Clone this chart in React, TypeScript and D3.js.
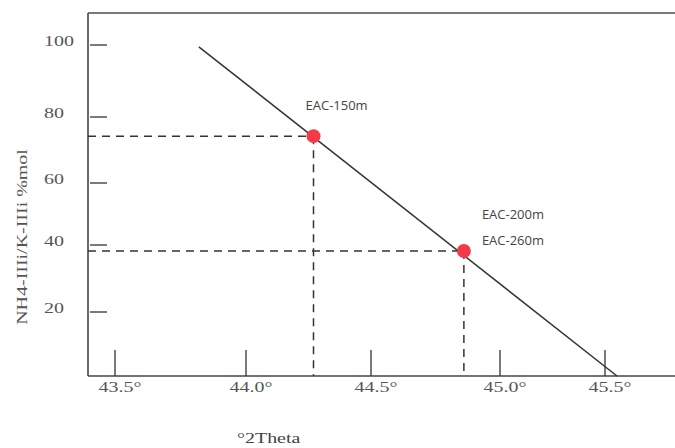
import React from "react";
import * as d3 from "d3";

const xTicks = [43.5, 44.0, 44.5, 45.0, 45.5];
const xTickLabels = ["43.5°", "44.0°", "44.5°", "45.0°", "45.5°"];
const yTicks = [20, 40, 60, 80, 100];
const lineX = [43.82, 45.557];
const lineY = [99.5, 0];
const sampleNames = ["EAC-150m", "EAC-200m"];
const sampleX = [44.27, 44.86];
const sampleY = [74.2, 38.2];
const sampleLabels = [["EAC-150m"], ["EAC-200m", "EAC-260m"]];

const W = 675;
const H = 448;
const left = 88;
const top = 13;
const bottom = 376;
const STRETCH = 1.33;

const x = d3
  .scaleLinear()
  .domain([43.5, 44.0, 44.5, 45.0, 45.5])
  .range([115, 246, 371, 500, 605]);
const y = d3
  .scaleLinear()
  .domain([0, 20, 40, 60, 80, 100])
  .range([376, 312, 245, 183, 117, 45]);

const serif = "'Liberation Serif', 'DejaVu Serif', serif";
const sans = "'Open Sans', 'Noto Sans', sans-serif";

function SerifText(props: {
  x: number;
  y: number;
  text: string;
  anchor?: string;
  fill?: string;
  size?: number;
  transform?: string;
}) {
  const size = props.size ?? 15;
  return (
    <text
      x={props.x}
      y={props.y}
      transform={props.transform}
      textAnchor={props.anchor ?? "start"}
      fontFamily={serif}
      fontSize={size}
      fill={props.fill ?? "#555"}
      style={{ fontStretch: "normal" }}
    >
      <tspan
        ref={(el) => {
          if (el) {
            el.removeAttribute("textLength");
            const w = el.getComputedTextLength();
            el.setAttribute("textLength", String(w * STRETCH));
            el.setAttribute("lengthAdjust", "spacingAndGlyphs");
          }
        }}
      >
        {props.text}
      </tspan>
    </text>
  );
}

export default function App() {
  const line = d3
    .line<number>()
    .x((d, i) => x(lineX[i]))
    .y((d, i) => y(lineY[i]));
  return (
    <svg
      width={W}
      height={H}
      style={{ position: "absolute", left: 0, top: 0, background: "#fff" }}
    >
      {/* frame */}
      <line x1={left} y1={top} x2={W} y2={top} stroke="#7a7a7a" strokeWidth={2} />
      <line x1={left} y1={top} x2={left} y2={bottom} stroke="#444" strokeWidth={1.6} />
      <line x1={left} y1={bottom} x2={W} y2={bottom} stroke="#444" strokeWidth={1.6} />

      {/* y ticks */}
      {yTicks.map((t) => (
        <g key={"y" + t}>
          <line x1={left + 2} x2={left + 19} y1={y(t)} y2={y(t)} stroke="#333" strokeWidth={1.3} />
          <SerifText x={44} y={y(t) + 1} text={String(t)} />
        </g>
      ))}

      {/* x ticks */}
      {xTicks.map((t, i) => (
        <g key={"x" + t}>
          <line x1={x(t)} x2={x(t)} y1={bottom - 26} y2={bottom} stroke="#333" strokeWidth={1.3} />
          <SerifText x={x(t) + 5} y={bottom + 16} anchor="middle" text={xTickLabels[i]} />
        </g>
      ))}

      {/* dashed guides */}
      {sampleNames.map((n, i) => (
        <g key={"g" + n}>
          <line
            x1={left}
            x2={x(sampleX[i])}
            y1={y(sampleY[i])}
            y2={y(sampleY[i])}
            stroke="#333"
            strokeWidth={1.5}
            strokeDasharray="8,6"
          />
          <line
            x1={x(sampleX[i])}
            x2={x(sampleX[i])}
            y1={y(sampleY[i])}
            y2={bottom}
            stroke="#333"
            strokeWidth={1.5}
            strokeDasharray="8,6"
          />
        </g>
      ))}

      {/* regression line */}
      <path d={line(lineX) || ""} fill="none" stroke="#333" strokeWidth={1.5} />

      {/* points */}
      {sampleNames.map((n, i) => (
        <circle key={"c" + n} cx={x(sampleX[i])} cy={y(sampleY[i])} r={7} fill="#f23a48" />
      ))}

      {/* labels */}
      {sampleLabels.map((lbls, i) =>
        lbls.map((l, j) => (
          <text
            key={l}
            x={i === 0 ? x(sampleX[i]) - 8 : x(sampleX[i]) + 18}
            y={i === 0 ? y(sampleY[i]) - 26 : y(sampleY[i]) - 32 + j * 26}
            fontFamily={sans}
            fontSize={13}
            fill="#444"
          >
            {l}
          </text>
        ))
      )}

      {/* axis titles */}
      <SerifText x={237} y={443} text="°2Theta" fill="#444" />
      <SerifText
        x={0}
        y={0}
        anchor="middle"
        transform="translate(27,237) rotate(-90)"
        text="NH4-IIIi/K-IIIi %mol"
      />
    </svg>
  );
}
